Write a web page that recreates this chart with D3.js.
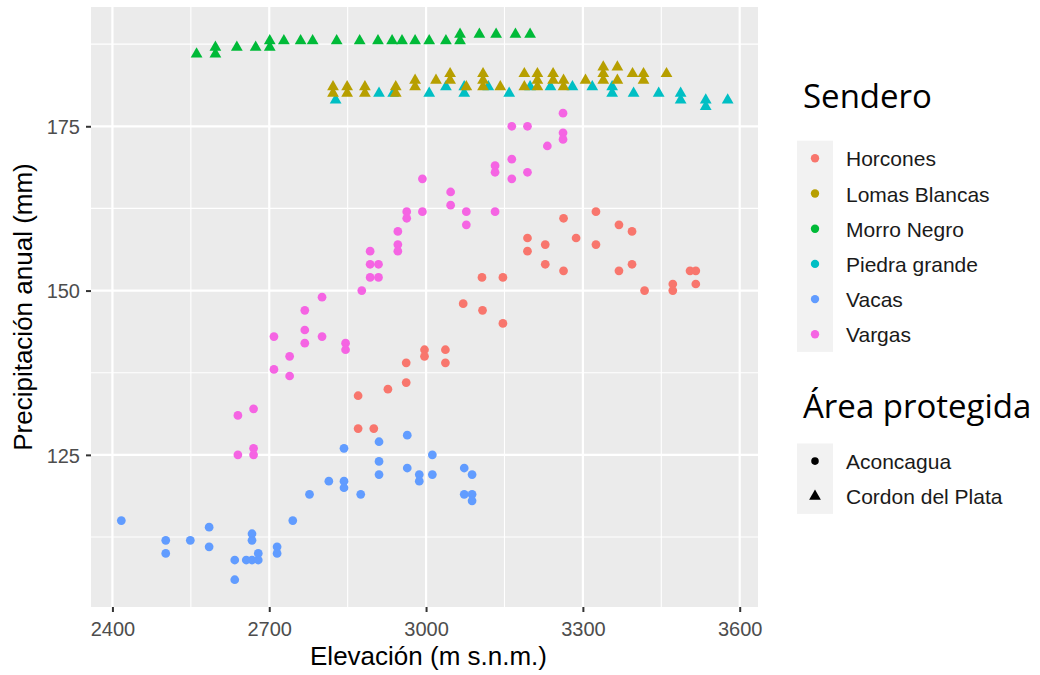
<!DOCTYPE html>
<html><head><meta charset="utf-8">
<script src="https://cdn.jsdelivr.net/npm/d3@7/dist/d3.min.js"></script>
<style>
html,body{margin:0;padding:0;background:#fff;}
svg{display:block;}
</style></head>
<body>
<script>
// ---- data ----
const senderos = ["Horcones","Lomas Blancas","Morro Negro","Piedra grande","Vacas","Vargas"];
const areas = ["Aconcagua","Cordon del Plata"];
const senderoArea = {"Horcones":"Aconcagua","Lomas Blancas":"Cordon del Plata","Morro Negro":"Cordon del Plata","Piedra grande":"Cordon del Plata","Vacas":"Aconcagua","Vargas":"Aconcagua"};
const colors = ["#F8766D","#B79F00","#00BA38","#00BFC4","#619CFF","#F564E3"];
const xTicks = [2400,2700,3000,3300,3600];
const yTicks = [125,150,175];

const horcones = [[3263,161],[3287,158],[3194,158],[3194,156],[3228,157],[3228,154],[3263,153],[3325,162],[3325,157],[3369,160],[3394,159],[3369,153],[3394,154],[3418,150],[3472,151],[3472,150],[3505,153],[3516,153],[3516,151],[3147,152],[3147,145],[3108,147],[3071,148],[3107,152],[2997,141],[2997,140],[3037,141],[3037,139],[2962,139],[2962,136],[2927,135],[2870,134],[2870,129],[2900,129]];
const lomasBlancas = [[2822,181],[2822,180],[2849,181],[2849,180],[2883,181],[2883,180],[2942,181],[2942,180],[2979,182],[2979,181],[3019,182],[3046,183],[3046,182],[3077,181],[3109,183],[3109,182],[3109,181],[3142,181],[3188,183],[3188,181],[3213,183],[3213,182],[3213,181],[3243,183],[3243,182],[3263,182],[3263,181],[3305,182],[3339,184],[3339,183],[3339,182],[3366,184],[3366,182],[3395,183],[3416,183],[3416,182],[3460,183]];
const morroNegro = [[2561,186],[2597,187],[2597,186],[2638,187],[2674,187],[2701,188],[2701,187],[2728,188],[2760,188],[2783,188],[2829,188],[2873,188],[2908,188],[2935,188],[2954,188],[2979,188],[3006,188],[3038,188],[3065,189],[3065,188],[3102,189],[3134,189],[3171,189],[3199,189]];
const piedraGrande = [[2827,179],[2910,180],[2937,180],[3006,180],[3038,181],[3073,181],[3073,180],[3119,181],[3159,180],[3199,181],[3238,181],[3280,181],[3318,181],[3356,181],[3356,180],[3397,180],[3445,180],[3487,180],[3487,179],[3535,179],[3535,178],[3577,179]];
const vacas = [[2417,115],[2502,112],[2502,110],[2549,112],[2585,114],[2585,111],[2634,109],[2634,106],[2656,109],[2667,113],[2667,112],[2667,109],[2679,110],[2679,109],[2715,111],[2715,110],[2745,115],[2777,119],[2814,121],[2843,126],[2843,121],[2843,120],[2875,119],[2910,127],[2910,124],[2910,122],[2964,128],[2964,123],[2987,122],[2987,121],[3012,125],[3012,122],[3073,123],[3073,119],[3088,122],[3088,119],[3088,118]];
const vargas = [[3262,177],[3164,175],[3194,175],[3262,174],[3262,173],[3232,172],[3132,169],[3132,168],[3164,170],[3164,167],[3194,168],[2993,167],[3047,165],[3047,163],[3077,162],[3077,160],[3132,162],[2993,162],[2963,162],[2963,161],[2946,159],[2946,157],[2946,156],[2893,156],[2893,154],[2893,152],[2909,154],[2909,152],[2877,150],[2801,149],[2768,147],[2768,144],[2768,142],[2801,143],[2709,143],[2739,140],[2709,138],[2739,137],[2846,142],[2846,141],[2640,131],[2670,132],[2640,125],[2670,126],[2670,125]];

const seriesData = {"Horcones":horcones,"Lomas Blancas":lomasBlancas,"Morro Negro":morroNegro,"Piedra grande":piedraGrande,"Vacas":vacas,"Vargas":vargas};
const drawOrder = ["Horcones","Piedra grande","Lomas Blancas","Morro Negro","Vacas","Vargas"];

// ---- layout ----
const W = 1040, H = 675;
const panel = {left:91, right:758, top:7, bottom:607};
const svg = d3.select("body").append("svg").attr("width",W).attr("height",H);

const all = senderos.flatMap(s => seriesData[s]);
const xe = d3.extent(all, d=>d[0]), ye = d3.extent(all, d=>d[1]);
const xp = (xe[1]-xe[0])*0.05, yp = (ye[1]-ye[0])*0.05;
const x = d3.scaleLinear().domain([xe[0]-xp, xe[1]+xp]).range([panel.left, panel.right]);
const y = d3.scaleLinear().domain([ye[0]-yp, ye[1]+yp]).range([panel.bottom, panel.top]);
const color = d3.scaleOrdinal().domain(senderos).range(colors);
const shape = d3.scaleOrdinal().domain(areas).range([d3.symbolCircle, d3.symbolTriangle]);
const shapeSize = {"Aconcagua":60, "Cordon del Plata":60};

// panel background
svg.append("rect").attr("x",panel.left).attr("y",panel.top)
  .attr("width",panel.right-panel.left).attr("height",panel.bottom-panel.top).attr("fill","#EBEBEB");

// minor gridlines
const xMinor = xTicks.slice(0,-1).map((t,i)=> (t+xTicks[i+1])/2);
const yMinor = [yTicks[0]-12.5, ...yTicks.map(t=>t+12.5)];
const g = svg.append("g");
g.selectAll(".xm").data(xMinor).enter().append("line")
  .attr("x1",d=>x(d)).attr("x2",d=>x(d)).attr("y1",panel.top).attr("y2",panel.bottom)
  .attr("stroke","#fff").attr("stroke-width",1.1);
g.selectAll(".ym").data(yMinor).enter().append("line")
  .attr("y1",d=>y(d)).attr("y2",d=>y(d)).attr("x1",panel.left).attr("x2",panel.right)
  .attr("stroke","#fff").attr("stroke-width",1.1);
g.selectAll(".xM").data(xTicks).enter().append("line")
  .attr("x1",d=>x(d)).attr("x2",d=>x(d)).attr("y1",panel.top).attr("y2",panel.bottom)
  .attr("stroke","#fff").attr("stroke-width",2.2);
g.selectAll(".yM").data(yTicks).enter().append("line")
  .attr("y1",d=>y(d)).attr("y2",d=>y(d)).attr("x1",panel.left).attr("x2",panel.right)
  .attr("stroke","#fff").attr("stroke-width",2.2);

// axes
const xAxis = d3.axisBottom(x).tickValues(xTicks).tickSize(5).tickPadding(10).tickFormat(d3.format("d"));
const yAxis = d3.axisLeft(y).tickValues(yTicks).tickSize(5).tickPadding(6).tickFormat(d3.format("d"));
const gx = svg.append("g").attr("transform",`translate(0,${panel.bottom})`).call(xAxis);
const gy = svg.append("g").attr("transform",`translate(${panel.left},0)`).call(yAxis);
[gx,gy].forEach(a=>{
  a.select(".domain").remove();
  a.selectAll(".tick line").attr("stroke","#333").attr("stroke-width",2);
  a.selectAll(".tick text").attr("fill","#4D4D4D").attr("font-family","Liberation Sans, Arial, sans-serif").attr("font-size",20);
});
gx.selectAll(".tick text").attr("dy","0.71em");
gy.selectAll(".tick text").attr("dy","0.36em");

// axis titles
svg.append("text").attr("x",(panel.left+panel.right)/2 + 4).attr("y",665)
  .attr("text-anchor","middle").attr("font-family","Liberation Sans, Arial, sans-serif")
  .attr("font-size",26).attr("fill","#000").text("Elevación (m s.n.m.)");
svg.append("text").attr("transform",`translate(32,${(panel.top+panel.bottom)/2}) rotate(-90)`)
  .attr("text-anchor","middle").attr("font-family","Liberation Sans, Arial, sans-serif")
  .attr("font-size",26).attr("fill","#000").text("Precipitación anual (mm)");

// points
const pts = svg.append("g");
drawOrder.forEach(s=>{
  const a = senderoArea[s];
  pts.selectAll(null).data(seriesData[s]).enter().append("path")
    .attr("transform",d=>`translate(${x(d[0])},${y(d[1])})`)
    .attr("d", d3.symbol().type(shape(a)).size(shapeSize[a]))
    .attr("fill", color(s));
});

// legends
const lg = svg.append("g").attr("font-family","Liberation Sans, Arial, sans-serif");
const keyX = 797, keyW = 36, keyH = 35.2;
lg.append("text").attr("x",803).attr("y",108).attr("font-family","Open Sans, sans-serif")
  .attr("font-size",33).attr("fill","#000").text("Sendero");
const k1top = 140.7;
lg.append("rect").attr("x",keyX).attr("y",k1top).attr("width",keyW).attr("height",keyH*senderos.length).attr("fill","#F2F2F2");
senderos.forEach((s,i)=>{
  const cy = k1top + keyH*(i+0.5);
  lg.append("path").attr("transform",`translate(${keyX+keyW/2},${cy})`)
    .attr("d",d3.symbol().type(d3.symbolCircle).size(55)).attr("fill",color(s));
  lg.append("text").attr("x",846).attr("y",cy+8).attr("font-size",21).attr("fill","#1A1A1A").text(s);
});
lg.append("text").attr("x",803).attr("y",418).attr("font-family","Open Sans, sans-serif")
  .attr("font-size",33).attr("fill","#000").text("Área protegida");
const k2top = 443.5;
lg.append("rect").attr("x",keyX).attr("y",k2top).attr("width",keyW).attr("height",keyH*areas.length).attr("fill","#F2F2F2");
areas.forEach((a,i)=>{
  const cy = k2top + keyH*(i+0.5);
  lg.append("path").attr("transform",`translate(${keyX+keyW/2},${cy})`)
    .attr("d",d3.symbol().type(shape(a)).size(a==="Aconcagua"?45:60)).attr("fill","#000");
  lg.append("text").attr("x",846).attr("y",cy+8).attr("font-size",21).attr("fill","#1A1A1A").text(a);
});
</script>
</body></html>
